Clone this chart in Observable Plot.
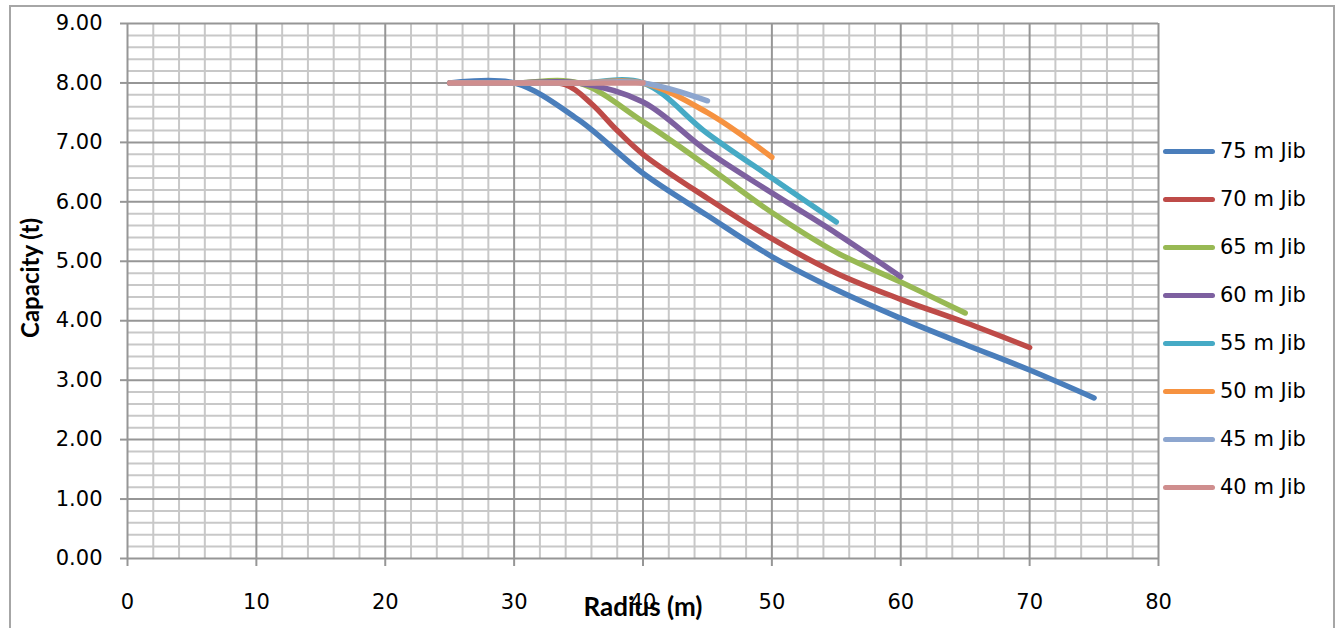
<!DOCTYPE html>
<html><head><meta charset="utf-8">
<script src="https://cdn.jsdelivr.net/npm/d3@7"></script>
<script src="https://cdn.jsdelivr.net/npm/@observablehq/plot@0.6"></script>
<style>
html,body{margin:0;padding:0;background:#fff;overflow:hidden}
#wrap{position:relative;width:1341px;height:628px;background:#fff}
#border{position:absolute;left:9px;top:5px;width:1326px;height:660px;border:2.5px solid #a6a6a6;box-sizing:border-box;pointer-events:none}
#chart{position:absolute;left:0;top:0}
#legend{position:absolute;left:0;top:0;font-family:"DejaVu Sans",sans-serif;font-size:21px;color:#000}
.item{position:absolute;left:1163px;height:26px;display:flex;align-items:center;white-space:nowrap}
.sw{width:52px;height:5px;border-radius:3px;margin-right:5px}
</style>
</head><body>
<div id="wrap"><div id="chart"></div><div id="legend"></div><div id="border"></div></div>
<script>
// Series: jib lengths, radii (m) and capacities (t)
const jibs = ["75 m Jib","70 m Jib","65 m Jib","60 m Jib","55 m Jib","50 m Jib","45 m Jib","40 m Jib"];
const colors = ["#4A7EBB","#BE4B48","#98B954","#7D60A0","#46AAC5","#F69240","#8DA6CF","#CF8E8E"];

const r75 = [25,30,35,40,45,50,55,60,65,70,75];
const c75 = [8,8,7.38,6.48,5.77,5.08,4.52,4.04,3.6,3.17,2.7];
const r70 = [25,30,34,36,38,40,45,50,55,60,65,70];
const c70 = [8,8,7.97,7.65,7.2,6.8,6.06,5.38,4.8,4.36,3.97,3.55];
const r65 = [25,30,35,40,45,50,55,60,65];
const c65 = [8,8,8,7.35,6.6,5.82,5.15,4.65,4.13];
const r60 = [25,30,35,40,45,50,55,60];
const c60 = [8,8,8,7.68,6.85,6.15,5.47,4.74];
const r55 = [25,30,35,40,45,50,55];
const c55 = [8,8,8,8,7.15,6.4,5.66];
const r50 = [25,30,35,40,45,50];
const c50 = [8,8,8,8,7.5,6.75];
const r45 = [25,30,35,40,45];
const c45 = [8,8,8,8,7.7];
const r40 = [25,30,35,40];
const c40 = [8,8,8,8];

const xTicks = [0,10,20,30,40,50,60,70,80];
const yTicks = [0,1,2,3,4,5,6,7,8,9];
const xMinor = d3.range(0, 81, 2).filter(v => v % 10 !== 0);
const yMinor = d3.range(1, 45).map(i => i / 5).filter(v => Math.abs(v - Math.round(v)) > 1e-9);

const series = [[r75,c75],[r70,c70],[r65,c65],[r60,c60],[r55,c55],[r50,c50],[r45,c45],[r40,c40]];
const rows = series.flatMap(([rs, cs], i) => rs.map((r, j) => ({jib: jibs[i], r, c: cs[j]})));

const minorCol = "#c8c8c8", majorCol = "#969696";
const plot = Plot.plot({
  width: 1341, height: 628,
  marginLeft: 127, marginRight: 183, marginTop: 23, marginBottom: 70,
  style: {fontFamily: "DejaVu Sans", fontSize: "21px", color: "#000", background: "transparent"},
  x: {domain: [0, 80], label: null},
  y: {domain: [0, 9], label: null},
  color: {domain: jibs, range: colors},
  marks: [
    Plot.gridX(xMinor, {stroke: minorCol, strokeWidth: 2, strokeOpacity: 1}),
    Plot.gridY(yMinor, {stroke: minorCol, strokeWidth: 2, strokeOpacity: 1}),
    Plot.gridX(xTicks, {stroke: majorCol, strokeWidth: 2, strokeOpacity: 1}),
    Plot.gridY(yTicks, {stroke: majorCol, strokeWidth: 2, strokeOpacity: 1}),
    Plot.axisY({ticks: yTicks, tickFormat: d => d.toFixed(2), tickSize: 7, tickPadding: 18, stroke: majorCol, strokeWidth: 2, fontSize: 21, label: null}),
    Plot.axisX({ticks: xTicks, tickFormat: d => String(d), tickSize: 8, tickPadding: 28, stroke: majorCol, strokeWidth: 2, fontSize: 21, label: null}),
    Plot.line(rows, {x: "r", y: "c", z: "jib", stroke: "jib", curve: "catmull-rom", strokeWidth: 5.5}),
    Plot.text(["Capacity (t)"], {frameAnchor: "left", textAnchor: "middle", dx: -96, dy: -13, rotate: -90, fontWeight: "bold", fontSize: 24, fontFamily: "Lato", fill: "#000", style: "letter-spacing:1.5px"}),
    Plot.text(["Radius (m)"], {frameAnchor: "bottom", textAnchor: "middle", dy: 57, fontWeight: "bold", fontSize: 26, fontFamily: "Lato", fill: "#000"})
  ]
});
document.getElementById("chart").appendChild(plot);

const leg = document.getElementById("legend");
jibs.forEach((j, i) => {
  const d = document.createElement("div");
  d.className = "item";
  d.style.top = (151 + 48 * i - 13) + "px";
  d.innerHTML = `<span class="sw" style="background:${colors[i]}"></span><span>${j}</span>`;
  leg.appendChild(d);
});
</script>
</body></html>
